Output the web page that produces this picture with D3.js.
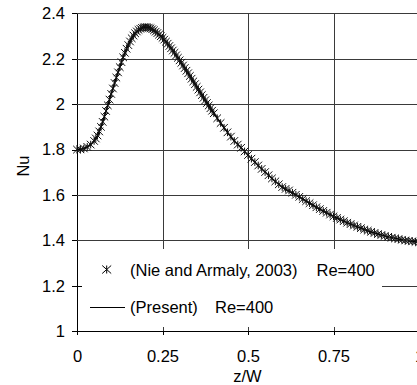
<!DOCTYPE html>
<html><head><meta charset="utf-8">
<script src="https://cdn.jsdelivr.net/npm/d3@7"></script>
<style>body{margin:0;background:#fff}svg{display:block;font-family:"Liberation Sans",Arial,sans-serif}</style>
</head><body>
<svg id="c" width="417" height="385"></svg>
<script>
// Nie and Armaly (2003), Re=400 — marker positions (z/W) and Nu
const nieZ = [0,0.01,0.02,0.03,0.04,0.05,0.055,0.06,0.065,0.07,0.075,0.08,0.085,0.09,0.095,
0.10,0.105,0.11,0.115,0.12,0.125,0.13,0.135,0.14,0.145,0.15,0.155,0.16,0.165,0.17,0.175,
0.18,0.185,0.19,0.195,0.20,0.205,0.21,0.215,0.22,0.225,0.23,0.235,0.24,0.245,0.25,0.255,
0.26,0.265,0.27,0.275,0.28,0.285,0.29,0.295,0.30,0.305,0.31,0.315,0.32,0.325,0.33,0.335,
0.34,0.345,0.35,0.355,0.36,0.365,0.37,0.375,0.38,0.385,0.39,0.395,0.40,
0.41,0.42,0.43,0.44,0.45,0.46,0.47,0.48,0.49,0.50,0.51,0.52,0.53,0.54,0.55,0.56,0.57,0.58,0.59,
0.60,0.61,0.62,0.63,0.64,0.65,0.66,0.67,0.68,0.69,0.70,0.71,0.72,0.73,0.74,0.75,0.76,0.77,0.78,0.79,
0.80,0.81,0.82,0.83,0.84,0.85,0.86,0.87,0.88,0.89,0.90,0.91,0.92,0.93,0.94,0.95,0.96,0.97,0.98,0.99,1.00];
const nieNu = [1.800,1.801,1.805,1.812,1.822,1.838,1.849,1.862,1.880,1.900,1.922,1.945,1.970,1.995,2.020,
2.045,2.069,2.093,2.117,2.140,2.163,2.185,2.206,2.226,2.244,2.260,2.276,2.290,2.302,2.312,2.320,
2.327,2.332,2.336,2.338,2.339,2.338,2.337,2.334,2.330,2.325,2.319,2.313,2.306,2.299,2.292,2.284,
2.275,2.266,2.256,2.246,2.236,2.226,2.215,2.204,2.193,2.182,2.170,2.159,2.147,2.136,2.124,2.112,
2.100,2.088,2.076,2.064,2.052,2.040,2.028,2.017,2.005,1.994,1.982,1.971,1.960,
1.938,1.917,1.896,1.876,1.857,1.838,1.822,1.808,1.792,1.776,1.760,1.745,1.730,1.715,1.701,1.687,1.673,1.660,1.647,
1.635,1.627,1.620,1.610,1.601,1.592,1.582,1.573,1.564,1.555,1.546,1.538,1.530,1.522,1.514,1.506,1.499,1.492,1.485,1.478,
1.472,1.466,1.460,1.454,1.448,1.443,1.438,1.433,1.428,1.424,1.420,1.416,1.412,1.409,1.406,1.403,1.400,1.398,1.396,1.394,1.392];

// Present, Re=400 — line
const presentZ = [0,0.02,0.04,0.05,0.06,0.07,0.08,0.09,0.10,0.11,0.12,0.13,0.14,0.15,0.16,0.17,0.18,0.19,0.20,
0.21,0.22,0.23,0.24,0.25,0.26,0.28,0.30,0.32,0.34,0.36,0.38,0.40,0.42,0.44,0.46,0.48,0.50,
0.55,0.60,0.65,0.70,0.75,0.80,0.85,0.90,0.95,1.00];
const presentNu = [1.800,1.805,1.822,1.838,1.862,1.900,1.945,1.995,2.045,2.093,2.140,2.185,2.226,2.260,2.290,2.312,2.327,2.336,2.339,
2.337,2.330,2.319,2.306,2.292,2.275,2.236,2.193,2.147,2.100,2.052,2.005,1.960,1.917,1.876,1.838,1.808,1.776,
1.701,1.635,1.592,1.546,1.506,1.472,1.443,1.420,1.403,1.392];

const xTicks = [0, 0.25, 0.5, 0.75, 1];
const xTickLabels = ["0", "0.25", "0.5", "0.75", "1"];
const yTicks = [1, 1.2, 1.4, 1.6, 1.8, 2, 2.2, 2.4];
const yTickLabels = ["1", "1.2", "1.4", "1.6", "1.8", "2", "2.2", "2.4"];
const legendLabels = ["(Nie and Armaly, 2003)", "(Present)"];
const legendRe = ["Re=400", "Re=400"];

const svg = d3.select("#c");
const L = 77, R = 419, T = 13.3, B = 331.3;
const LG = {x0: 78, x1: 381.5, y0: 249, y1: 327};
const x = d3.scaleLinear().domain([0, 1]).range([L, R]);
const y = d3.scaleLinear().domain([1, 2.4]).range([B, T]);
const FS = 16.5;
const FONT = '"Liberation Sans",Arial,sans-serif';
const GRID = "#3a3a3a";
const px = v => Math.round(v) + 0.5;

// axes (labels + ticks)
const yAxis = d3.axisLeft(y).tickValues(yTicks).tickFormat((d, i) => yTickLabels[i]).tickSize(5).tickPadding(7);
const ya = svg.append("g").attr("transform", `translate(${L},0)`).call(yAxis);
const xAxis = d3.axisBottom(x).tickValues(xTicks).tickFormat((d, i) => xTickLabels[i]).tickSize(4).tickPadding(15);
const xa = svg.append("g").attr("transform", `translate(0,${B})`).call(xAxis);
[ya, xa].forEach(a => {
  a.select(".domain").remove();
  a.selectAll("text").attr("font-size", FS).attr("font-family", FONT).attr("fill", "#000");
  a.selectAll("line").attr("stroke", "#000").attr("shape-rendering", "crispEdges");
});
ya.selectAll(".tick").append("line").attr("x2", 5).attr("stroke", "#000").attr("shape-rendering", "crispEdges");
xa.selectAll(".tick").append("line").attr("y2", -4).attr("stroke", "#000").attr("shape-rendering", "crispEdges");

// axis lines
svg.append("line").attr("x1", L + 0.5).attr("x2", L + 0.5).attr("y1", T).attr("y2", B + 0.5).attr("stroke", "#000").attr("shape-rendering", "crispEdges");
svg.append("line").attr("x1", L).attr("x2", R).attr("y1", px(B)).attr("y2", px(B)).attr("stroke", "#000").attr("shape-rendering", "crispEdges");

// present line
const lineGen = d3.line().x((d, i) => x(presentZ[i])).y(d => y(d)).curve(d3.curveMonotoneX);
svg.append("path").datum(presentNu).attr("d", lineGen).attr("fill", "none").attr("stroke", "#000").attr("stroke-width", 1.5);

// star markers
const s = 3.8;
const star = `M${-s},${-s}L${s},${s}M${-s},${s}L${s},${-s}M0,${-s}L0,${s}`;
svg.append("g").attr("class", "markers").selectAll("path").data(nieNu).enter().append("path")
  .attr("transform", (d, i) => `translate(${x(nieZ[i])},${y(d)})`)
  .attr("d", star).attr("fill", "none").attr("stroke", "#111").attr("stroke-width", 1);

// axis titles
svg.append("text").attr("x", (L + R) / 2 - 0.5).attr("y", 382).attr("text-anchor", "middle").attr("font-size", FS).text("z/W");
svg.append("text").attr("transform", "translate(29,166) rotate(-90)").attr("text-anchor", "middle").attr("font-size", FS).text("Nu");

// legend
const lg = svg.append("g").attr("font-size", FS);
lg.append("path").attr("transform", "translate(106.7,269.5)").attr("d", `M-4.5,-4L4.5,4M-4.5,4L4.5,-4M0,-4L0,4`).attr("stroke", "#000").attr("fill", "none");
lg.append("text").attr("x", 130).attr("y", 276).text(legendLabels[0]);
lg.append("text").attr("x", 316.5).attr("y", 276).text(legendRe[0]);
lg.append("line").attr("x1", 90).attr("x2", 125).attr("y1", 307.5).attr("y2", 307.5).attr("stroke", "#000").attr("stroke-width", 1);
lg.append("text").attr("x", 130).attr("y", 313).text(legendLabels[1]);
lg.append("text").attr("x", 215).attr("y", 313).text(legendRe[1]);

// gridlines (drawn last as segments, leaving room for the legend)
const grid = svg.append("g").attr("class", "grid");
const hSegs = [];
yTicks.filter(v => v > 1).forEach(v => {
  const yy = y(v);
  if (yy > LG.y0 && yy < LG.y1) hSegs.push([v, LG.x1, R]); else hSegs.push([v, L, R]);
});
grid.selectAll("line.hg").data(hSegs).enter().append("line").attr("class", "hg")
  .attr("x1", d => d[1]).attr("x2", d => d[2])
  .attr("y1", d => px(y(d[0]))).attr("y2", d => px(y(d[0])))
  .attr("stroke", GRID).attr("stroke-width", 1).attr("shape-rendering", "crispEdges");
const vSegs = [];
xTicks.filter(v => v > 0).forEach(v => {
  const xx = x(v);
  if (xx > LG.x0 && xx < LG.x1) { vSegs.push([v, T, LG.y0]); vSegs.push([v, LG.y1, B]); }
  else vSegs.push([v, T, B]);
});
grid.selectAll("line.vg").data(vSegs).enter().append("line").attr("class", "vg")
  .attr("x1", d => px(x(d[0]))).attr("x2", d => px(x(d[0])))
  .attr("y1", d => d[1]).attr("y2", d => d[2])
  .attr("stroke", GRID).attr("stroke-width", 1).attr("shape-rendering", "crispEdges");
// keep the data marks above the grid
svg.select("g.markers").raise();
</script>
</body></html>
